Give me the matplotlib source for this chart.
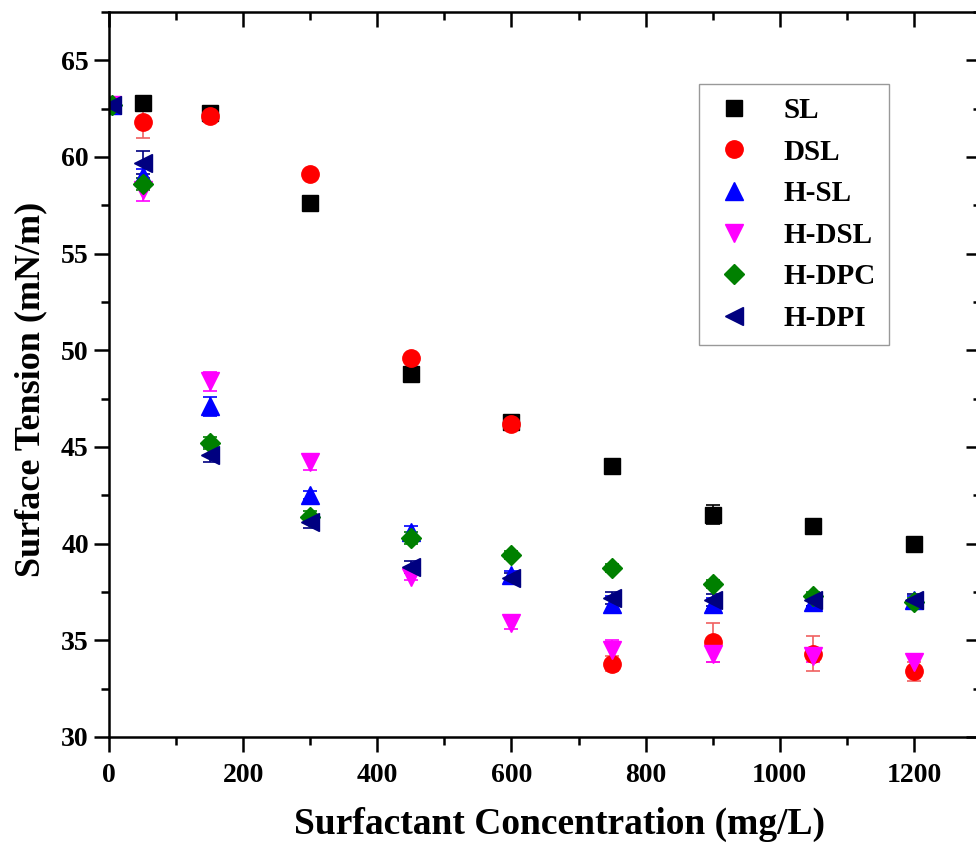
import numpy as np
import matplotlib
matplotlib.use("Agg")
import matplotlib.pyplot as plt

plt.rcParams["font.family"] = ["Liberation Serif", "DejaVu Serif"]
plt.rcParams["font.weight"] = "bold"

conc = [5, 50, 150, 300, 450, 600, 750, 900, 1050, 1200]

sl = [62.7, 62.8, 62.3, 57.6, 48.8, 46.3, 44.0, 41.5, 40.9, 40.0]
sl_err = [0.1, 0.2, 0.3, 0.3, 0.2, 0.2, 0.1, 0.5, 0.2, 0.3]

dsl = [62.7, 61.8, 62.1, 59.1, 49.6, 46.2, 33.8, 34.9, 34.3, 33.4]
dsl_err = [0.1, 0.8, 0.3, 0.1, 0.1, 0.2, 0.4, 1.0, 0.9, 0.5]

h_sl = [62.7, 59.0, 47.1, 42.5, 40.6, 38.4, 36.9, 36.9, 37.0, 37.1]
h_sl_err = [0.1, 0.4, 0.5, 0.2, 0.3, 0.2, 0.4, 0.3, 0.2, 0.2]

h_dsl = [62.7, 58.3, 48.4, 44.2, 38.3, 35.9, 34.5, 34.3, 34.2, 33.9]
h_dsl_err = [0.1, 0.6, 0.5, 0.4, 0.2, 0.3, 0.5, 0.4, 0.3, 0.4]

h_dpc = [62.7, 58.6, 45.2, 41.4, 40.3, 39.4, 38.75, 37.9, 37.3, 37.0]
h_dpc_err = [0.1, 0.3, 0.3, 0.3, 0.3, 0.2, 0.2, 0.2, 0.2, 0.2]

h_dpi = [62.7, 59.7, 44.6, 41.1, 38.8, 38.2, 37.2, 37.1, 37.1, 37.1]
h_dpi_err = [0.1, 0.6, 0.4, 0.3, 0.3, 0.3, 0.3, 0.3, 0.3, 0.3]

series = [
    ("SL", sl, sl_err, "s", "black", 11.5),
    ("DSL", dsl, dsl_err, "o", "red", 12.5),
    ("H-SL", h_sl, h_sl_err, "^", "blue", 12.5),
    ("H-DSL", h_dsl, h_dsl_err, "v", "magenta", 12.5),
    ("H-DPC", h_dpc, h_dpc_err, "D", "green", 10.5),
    ("H-DPI", h_dpi, h_dpi_err, "<", "navy", 12.5),
]

fig = plt.figure(figsize=(9.76, 8.52), dpi=100)
# axes run a little past the right edge, as in the cropped original
ax = fig.add_axes([109 / 976, 115 / 852, 872 / 976, 725 / 852])

handles = []
for name, vals, err, mk, col, ms in series:
    ecol = "#f06060" if col == "red" else col
    c = ax.errorbar(conc, vals, yerr=err, fmt=mk, color=col, ecolor=ecol,
                    ms=ms, elinewidth=1.2, capsize=5, capthick=1.2,
                    label=name, mec=col)
    handles.append(c[0])

ax.set_xlim(0, 1300)
ax.set_ylim(30, 67.5)
ax.set_xticks(np.arange(0, 1201, 200))
ax.set_xticks(np.arange(100, 1301, 200), minor=True)
ax.set_yticks(np.arange(30, 66, 5))
ax.set_yticks(np.arange(32.5, 67.6, 5), minor=True)

for s in ax.spines.values():
    s.set_linewidth(1.8)

ax.tick_params(which="both", top=True, right=True, width=1.8, labelsize=20)
ax.tick_params(which="major", length=10.5)
ax.tick_params(which="minor", length=6)
ax.tick_params(axis="x", which="both", direction="out", pad=8)
ax.tick_params(axis="y", which="both", direction="out", pad=4)
# top and right ticks point inward
for t in ax.xaxis.get_major_ticks() + ax.xaxis.get_minor_ticks():
    t.tick2line.set_marker(3)
for t in ax.yaxis.get_major_ticks() + ax.yaxis.get_minor_ticks():
    t.tick2line.set_marker(0)

ax.set_xlabel("Surfactant Concentration (mg/L)", fontsize=27, fontweight="bold")
ax.set_ylabel("Surface Tension (mN/m)", fontsize=26, fontweight="bold")
ax.xaxis.set_label_coords(0.517, -0.097)
ax.yaxis.set_label_coords(-0.071, 0.48)

leg = ax.legend(handles, [s[0] for s in series], loc="upper left",
                bbox_to_anchor=(0.677, 0.9007), fontsize=21,
                frameon=True, fancybox=False, edgecolor="gray",
                borderpad=0.45, labelspacing=0.5, handlelength=1.5,
                handletextpad=0.95, borderaxespad=0)
leg.get_frame().set_linewidth(1.0)

fig.savefig("out.png", dpi=100)
